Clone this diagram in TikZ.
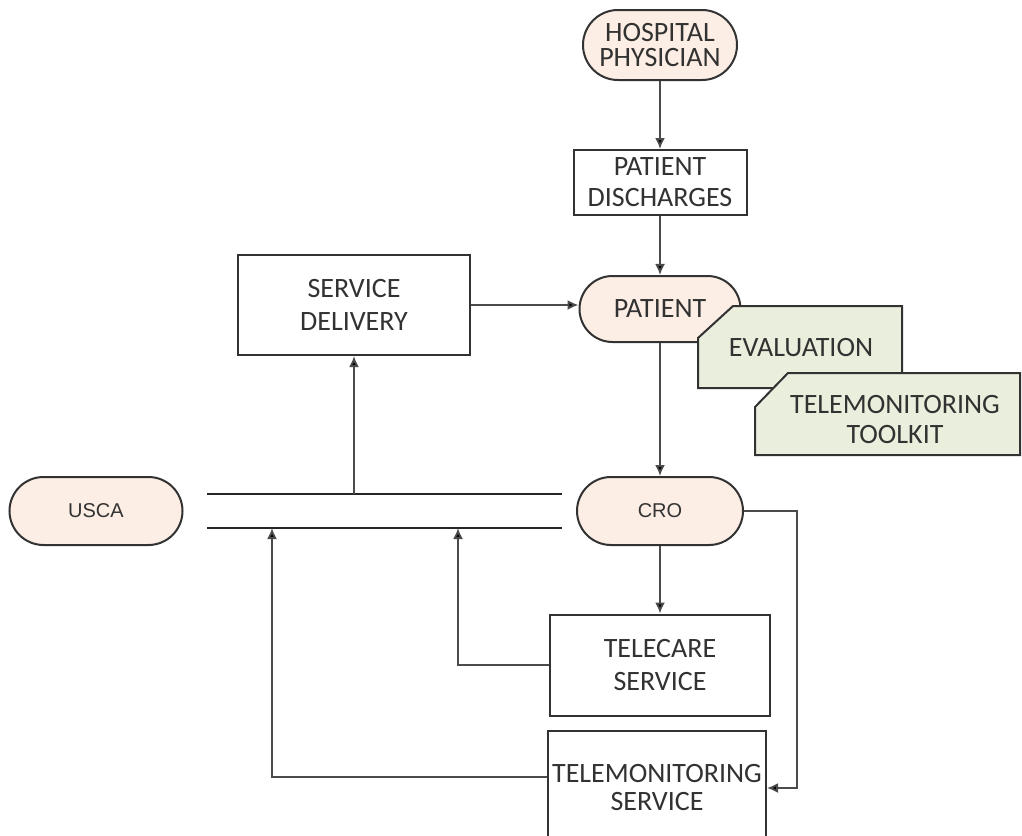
\documentclass[tikz,border=0pt]{standalone}
\usepackage{fontspec}
\newfontfamily\boxfont{Carlito}
\newfontfamily\smallfont{Liberation Sans}
\usetikzlibrary{positioning,shapes.misc,arrows.meta}
\definecolor{peach}{RGB}{252,238,228}
\definecolor{sage}{RGB}{234,238,220}
\definecolor{ink}{RGB}{50,50,50}
\definecolor{wire}{RGB}{75,75,75}

\begin{document}
\begin{tikzpicture}[x=0.5pt,y=-0.5pt,
  link/.style={draw=wire,-{Latex[length=5.5pt,width=5pt,fill=black]},line width=0.9pt},
  bus/.style={draw=black!85,line width=0.9pt},
  term/.style={draw=ink,line width=1pt,fill=peach,rounded rectangle,inner sep=1pt,align=center,text=ink,font=\boxfont\fontsize{14}{12.5}\selectfont},
  box/.style={draw=ink,line width=1pt,fill=white,rectangle,inner sep=1pt,align=center,text=ink,font=\boxfont\fontsize{14}{15.5}\selectfont},
  tag/.style={draw=ink,line width=1pt,fill=sage},
  tagtext/.style={inner sep=0pt,align=center,text=ink,font=\boxfont\fontsize{14}{15}\selectfont}]
  \useasboundingbox (0,0) rectangle (1022,835);

  \node[term,minimum width=79pt,minimum height=35pt] (phys) at (660,45) {HOSPITAL\\PHYSICIAN};
  \node[box,minimum width=86.5pt,minimum height=32.5pt] (disch) [below=34pt of phys] {PATIENT\\DISCHARGES};
  \node[term,minimum width=82.5pt,minimum height=33pt] (pat) [below=29.5pt of disch] {PATIENT};
  \node[box,minimum width=116pt,minimum height=50pt,font=\boxfont\fontsize{14}{16.5}\selectfont] (deliv) at (354,305) {SERVICE\\DELIVERY};

  % evaluation and toolkit tags sit over the patient
  \filldraw[tag] (733,306) -- (902,306) -- (902,388) -- (698,388) -- (698,338) -- cycle;
  \node[tagtext] (eval) at (801,348) {EVALUATION};
  \filldraw[tag] (788,373) -- (1020,373) -- (1020,455) -- (755,455) -- (755,407) -- cycle;
  \node[tagtext] (toolkit) at (895,420) {TELEMONITORING\\TOOLKIT};

  \node[term,minimum width=88.5pt,minimum height=34pt,font=\smallfont\fontsize{10}{12}\selectfont] (usca) at (96,511) {USCA};
  \node[term,minimum width=85pt,minimum height=34pt,font=\smallfont\fontsize{10}{12}\selectfont] (cro) at (660,511) {CRO};
  \node[box,minimum width=110pt,minimum height=50.5pt,font=\boxfont\fontsize{14}{16.5}\selectfont] (tcare) at (660,665) {TELECARE\\SERVICE};
  \node[box,minimum width=109pt,minimum height=56pt,font=\boxfont\fontsize{14}{14}\selectfont] (tmon) at (657,787) {TELEMONITORING\\SERVICE};

  % bus between USCA and CRO
  \coordinate (bustopw) at (207,494);
  \coordinate (bustope) at (562,494);
  \coordinate (buslow) at (207,528);
  \coordinate (buslowe) at (562,528);
  \coordinate (tapcare) at (458,528);
  \coordinate (tapmon) at (272,528);
  \coordinate (crobend) at (797,511);
  \draw[bus] (bustopw) -- (bustope);
  \draw[bus] (buslow) -- (buslowe);

  \draw[link] (phys) -- (disch); \draw[link] (disch) -- (pat);
  \draw[link] (deliv.east) -- (deliv.east -| pat.west);
  \draw[link] (pat.south) -- (pat.south |- cro.north);
  \draw[link] (cro) -- (tcare);
  \draw[link] (deliv.south |- bustopw) -- (deliv.south);
  \draw[link] (tcare.west) -| (tapcare);
  \draw[link] ([yshift=5pt]tmon.west) -| (tapmon);
  \draw[link] (cro.east) -- (crobend) |- ([yshift=-0.5pt]tmon.east);
\end{tikzpicture}
\end{document}
